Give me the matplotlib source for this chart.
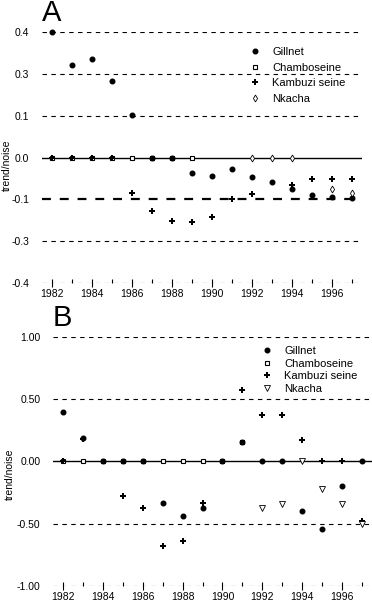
import numpy as np
import matplotlib
matplotlib.use("Agg")
import matplotlib.pyplot as plt

plt.rcParams['font.family'] = ['Liberation Sans', 'DejaVu Sans']

nan = np.nan
years = list(range(1982, 1998))
series_names = ['Gillnet', 'Chamboseine', 'Kambuzi seine', 'Nkacha']

# panel A values
gillnet_a = [0.40, 0.296, 0.315, 0.245, 0.135, 0, 0, -0.048, -0.058, -0.035,
             -0.061, -0.077, -0.10, -0.118, -0.125, -0.13]
chambo_a = [0, 0, 0, 0, 0, 0, 0, 0, nan, nan, nan, nan, nan, nan, nan, nan]
kambuzi_a = [0, 0, 0, 0, -0.112, -0.17, -0.203, -0.206, -0.19, -0.132,
             -0.115, nan, -0.087, -0.067, -0.067, -0.067]
nkacha_a = [nan, nan, nan, nan, nan, nan, nan, nan, nan, nan,
            0, 0, 0, nan, -0.10, -0.112]
ytick_labels_a = ['-0.4', '-0.3', '-0.1', '0.0', '0.1', '0.3', '0.4']

# panel B values
gillnet_b = [0.40, 0.185, 0, 0, 0, -0.33, -0.435, -0.37, 0, 0.153,
             0, 0, -0.40, -0.54, -0.20, 0]
chambo_b = [0, 0, 0, 0, 0, 0, 0, 0, 0, 0.153, nan, nan, nan, nan, nan, nan]
kambuzi_b = [0, 0.18, nan, -0.28, -0.37, -0.675, -0.635, -0.33, nan, 0.578,
             0.377, 0.377, 0.17, 0, 0, -0.48]
nkacha_b = [nan, nan, nan, nan, nan, nan, nan, nan, nan, nan,
            -0.37, -0.345, 0, -0.22, -0.34, -0.50]
ytick_labels_b = ['-1.00', '-0.50', '0.00', '0.50', '1.00']

xtick_years = years[::2]

fig = plt.figure(figsize=(3.72, 6.01), dpi=100)
ax_a = fig.add_axes([0.1129, 0.5291, 0.8602, 0.4176])
ax_b = fig.add_axes([0.1425, 0.0250, 0.8575, 0.4143])


def marker_styles(nk_marker, nk_size):
    return [
        dict(marker='o', ms=3.3, mfc='black', mec='black', zorder=4),
        dict(marker='s', ms=3.2, mfc='white', mec='black', mew=0.8, zorder=3),
        dict(marker='P', ms=4.3, mfc='black', mec='black', mew=0, zorder=5),
        dict(marker=nk_marker, ms=nk_size, mfc='white', mec='black', mew=0.6, zorder=6),
    ]


def draw_panel(ax, data, ylim, ylabels, letter, nk_marker, nk_size, legend_pos, spacing, bold_idx):
    ticks = np.linspace(ylim[0], ylim[1], len(ylabels))
    for i, t in enumerate(ticks):
        if abs(t) < 1e-9:
            ax.axhline(t, color='black', lw=1.0, zorder=1)
        else:
            ax.axhline(t, color='black', lw=1.6 if i == bold_idx else 0.8,
                       dashes=(4, 4), zorder=1)
    handles = []
    for vals, st, name in zip(data, marker_styles(nk_marker, nk_size), series_names):
        h, = ax.plot(years, vals, linestyle='none', label=name,
                     clip_on=False, **st)
        handles.append(h)
    ax.set_xlim(1981.5, 1997.5)
    ax.set_ylim(*ylim)
    ax.set_yticks(ticks)
    ax.set_yticklabels(ylabels)
    ax.set_xticks(xtick_years)
    ax.set_xticks([y for y in years if y % 2 == 1], minor=True)
    ax.tick_params(axis='y', length=0, pad=9, labelsize=7.5)
    ax.tick_params(axis='x', which='major', direction='inout', length=6,
                   width=0.8, pad=1, labelsize=7.5)
    ax.tick_params(axis='x', which='minor', direction='in', length=3, width=0.8)
    for s in ax.spines.values():
        s.set_visible(False)
    ax.set_ylabel('trend/noise', fontsize=7.5, labelpad=2)
    ax.text(-0.0, 1.02, letter, transform=ax.transAxes, fontsize=21,
            ha='left', va='bottom')
    ax.legend(handles=handles, loc='upper left', bbox_to_anchor=legend_pos,
              frameon=False, fontsize=8, handlelength=1.0, handletextpad=1.1,
              labelspacing=spacing, borderpad=0)


draw_panel(ax_a, [gillnet_a, chambo_a, kambuzi_a, nkacha_a], (-0.4, 0.4),
           ytick_labels_a, 'A', 'd', 3.5, (0.63, 0.962), 0.5, 2)
draw_panel(ax_b, [gillnet_b, chambo_b, kambuzi_b, nkacha_b], (-1.0, 1.0),
           ytick_labels_b, 'B', 'v', 3.8, (0.635, 0.985), 0.22, -1)

ax_a.yaxis.set_label_coords(-0.095, 0.47)
ax_b.yaxis.set_label_coords(-0.12, 0.45)

fig.savefig('out.png', dpi=100)
